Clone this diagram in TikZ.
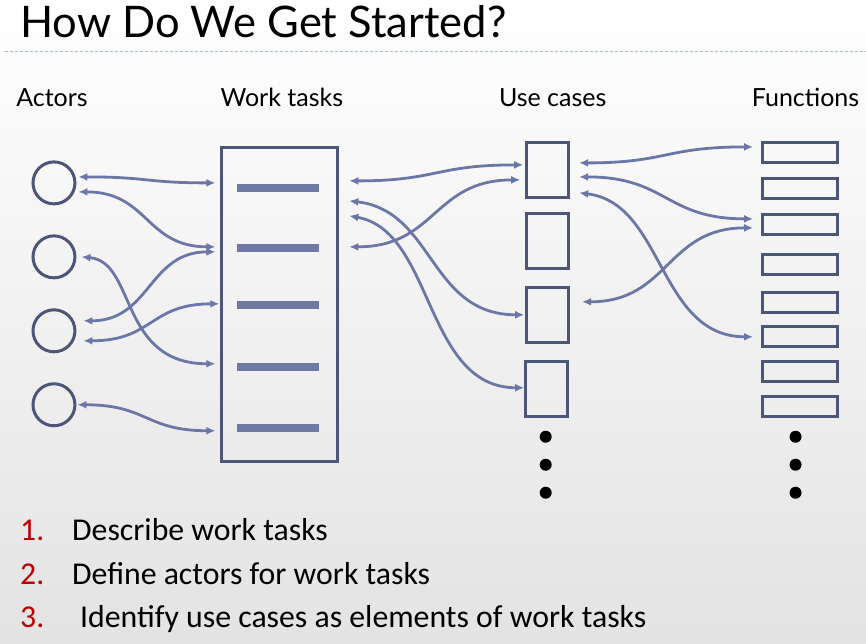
\documentclass[tikz,border=0pt]{standalone}
\usepackage{fontspec}
\newfontfamily\headfont{Lato}
\newfontfamily\bodyfont{Carlito}
\usetikzlibrary{arrows.meta, positioning, calc}
\definecolor{linkblue}{HTML}{6B77A6}
\definecolor{boxedge}{HTML}{4D5578}
\definecolor{barblue}{HTML}{7079A3}
\definecolor{numred}{HTML}{C00000}
\definecolor{rulegray}{HTML}{A8BCD4}

\begin{document}
\begin{tikzpicture}[x=1pt, y=-1pt, >={Latex[length=9pt,width=8pt]},
  actor/.style={draw=boxedge, circle, line width=3pt, minimum size=42pt, inner sep=0pt},
  taskbox/.style={draw=boxedge, line width=3pt, minimum width=116pt, minimum height=314pt, inner sep=0pt},
  bar/.style={fill=barblue, minimum width=82pt, minimum height=7.5pt, inner sep=0pt},
  usecase/.style={draw=boxedge, line width=3pt, minimum width=42pt, minimum height=55pt, inner sep=0pt},
  func/.style={draw=boxedge, line width=3pt, minimum width=75pt, minimum height=20pt, inner sep=0pt},
  dot/.style={circle, fill=black, minimum size=12pt, inner sep=0pt},
  link/.style={<->, draw=linkblue, line width=2.8pt},
  head/.style={font=\headfont\fontsize{25}{30}\selectfont, anchor=base, inner sep=0pt},
  item/.style={font=\bodyfont\fontsize{31.8}{38}\selectfont, anchor=base west, inner sep=0pt}]

% Background and title
\shade[top color=white, bottom color=black!11] (0,0) rectangle (866,644);
\node (title) [font=\headfont\fontsize{43.5}{50}\selectfont, anchor=base west, inner sep=0pt] at (20,38) {How Do We Get Started?};
\draw[rulegray, line width=1pt, dash pattern=on 3pt off 2pt] (5,52) -- (866,52);

% Headers
\node (hact) [head] at (52,107) {Actors};
\node (htask) [head] at (282,107) {Work tasks};
\node (huse) [head] at (553,107) {Use cases};
\node (hfun) [head] at (806,107) {Functions};

% Actors
\node (a1) [actor] at (54,183) {};
\node (a2) [actor] at (54,257) {};
\node (a3) [actor] at (54,331) {};
\node (a4) [actor] at (54,405) {};

% Work tasks
\node (wt) [taskbox] at (280,305) {};
\node (t1) [bar] at (278,188) {};
\node (t2) [bar] at (278,248) {};
\node (t3) [bar] at (278,305) {};
\node (t4) [bar] at (278,367) {};
\node (t5) [bar] at (278,428) {};

% Use cases
\node (u1) [usecase] at (548,170.5) {};
\node (u2) [usecase] at (548,241) {};
\node (u3) [usecase] at (548,315) {};
\node (u4) [usecase] at (547,389) {};
\node (ud1) [dot] at (546,437) {};
\node (ud2) [dot] at (546,465) {};
\node (ud3) [dot] at (546,493) {};

% Functions
\node (f1) [func] at (800.5,153) {};
\node (f2) [func] at (800.5,188.5) {};
\node (f3) [func] at (800.5,224.5) {};
\node (f4) [func] at (800.5,264.5) {};
\node (f5) [func] at (800.5,302.5) {};
\node (f6) [func] at (800.5,336.5) {};
\node (f7) [func] at (800.5,371.5) {};
\node (f8) [func] at (800.5,406.5) {};
\node (fd1) [dot] at (796,437) {};
\node (fd2) [dot] at (796,465) {};
\node (fd3) [dot] at (796,493) {};

% Arrows: actors - work tasks
\draw[link] ($(a1.east)+(2,-6)$) .. controls +(70,0) and +(-70,0) .. ($(wt.west |- t1)+(-5,-5)$);
\draw[link] ($(a1.east)+(2,9)$) .. controls +(70,0) and +(-70,0) .. ($(wt.west |- t2)+(-5,-1)$);
\draw[link] ($(a3.east)+(7,-10)$) .. controls +(67,0) and +(-67,0) .. ($(wt.west |- t2)+(-5,4)$);
\draw[link] ($(a3.east)+(7,10)$) .. controls +(70,0) and +(-70,0) .. ($(wt.west |- t3)+(-1,-1)$);
\draw[link] ($(a2.east)+(5,0)$) .. controls +(55,5) and +(-97,0) .. ($(wt.west |- t4)+(-5,-3)$);
\draw[link] ($(a4.east)+(1,0)$) .. controls +(70,0) and +(-70,0) .. ($(wt.west |- t5)+(-5,3)$);

% Arrows: work tasks - use cases
\draw[link] ($(wt.east |- t1)+(10,-7)$) .. controls +(88,0) and +(-88,0) .. ($(u1.west)+(-2,-5.5)$);
\draw[link] ($(wt.east |- t2)+(10,-1)$) .. controls +(87,0) and +(-87,0) .. ($(u1.west)+(-5,9.5)$);
\draw[link] ($(wt.east |- t1)+(10,13)$) .. controls +(85,10) and +(-95,0) .. ($(u3.west)+(-1,0)$);
\draw[link] ($(wt.east |- t1)+(10,28)$) .. controls +(85,15) and +(-100,0) .. ($(u4.west)+(0,-1)$);

% Arrows: use cases - functions
\draw[link] ($(u1.east)+(9,-7.5)$) .. controls +(88,0) and +(-88,0) .. ($(f1.west)+(-8,-6)$);
\draw[link] ($(u1.east)+(9,6.5)$) .. controls +(88,0) and +(-88,0) .. ($(f3.west)+(-8,-5.5)$);
\draw[link] ($(u1.east)+(9,22.5)$) .. controls +(85,10) and +(-95,0) .. ($(f6.west)+(-8,0.5)$);
\draw[link] ($(u3.east)+(12,-13)$) .. controls +(87,0) and +(-87,0) .. ($(f3.west)+(-8,3.5)$);

% Steps
\node (n1) [item, text=numred] at (20,541) {1.};
\node (l1) [item] at (72,541) {Describe work tasks};
\node (n2) [item, text=numred] at (20,585) {2.};
\node (l2) [item] at (72,585) {Define actors for work tasks};
\node (n3) [item, text=numred] at (20,628) {3.};
\node (l3) [item] at (80,628) {Identify use cases as elements of work tasks};

\end{tikzpicture}
\end{document}
